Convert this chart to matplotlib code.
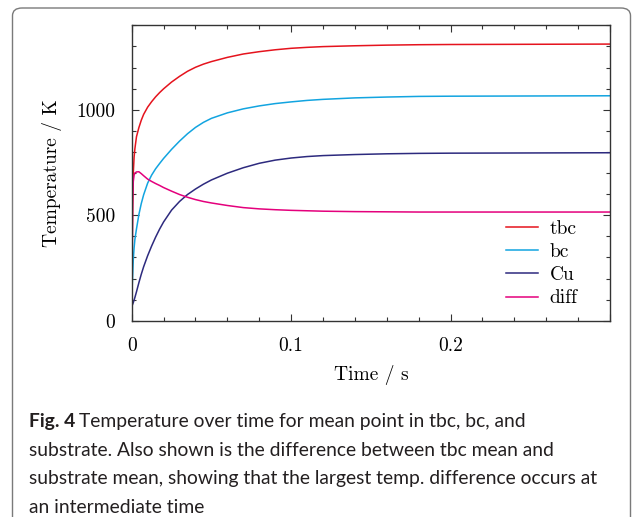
import matplotlib
matplotlib.use('Agg')
import matplotlib.pyplot as plt
from matplotlib.patches import FancyBboxPatch
from matplotlib.ticker import MultipleLocator

# values (time in s, temperature in K)
time = [0, 0.0003, 0.0006, 0.001, 0.0015, 0.002, 0.003, 0.0045, 0.006, 0.0075,
        0.01, 0.0125, 0.015, 0.0175, 0.02, 0.025, 0.03, 0.035, 0.04, 0.045,
        0.05, 0.06, 0.07, 0.08, 0.09, 0.1, 0.11, 0.12, 0.14, 0.16, 0.18,
        0.2, 0.25, 0.3]
tbc = [60, 330, 540, 700, 775, 815, 872, 915, 950, 978,
       1012, 1038, 1061, 1081, 1099, 1131, 1158, 1182, 1201, 1216,
       1228, 1248, 1264, 1275, 1284, 1291, 1295.5, 1299, 1303, 1306, 1308,
       1309, 1310, 1311]
bc = [70, 160, 215, 290, 345, 385, 435, 503, 555, 597,
      652, 690, 720, 745, 769, 812, 851, 886, 916, 940,
      959, 985, 1004, 1018, 1029, 1037, 1044, 1049, 1056, 1060, 1063,
      1064, 1065, 1066]
cu = [66, 72, 78, 86, 98, 110, 137, 180, 220, 256,
      308, 354, 396, 434, 468, 524, 565, 598, 624, 647,
      667, 699, 725, 746, 761, 771, 778, 782.5, 787.5, 791, 793,
      794, 795, 796]
diff = [0, 300, 560, 660, 690, 700, 705, 706, 697, 687,
        671, 660, 650, 641, 631, 614, 598, 585, 574, 565,
        558, 546, 536, 530, 526, 523, 521, 519, 517, 516, 515,
        515, 515, 515]

xticks = [0, 0.1, 0.2, 0.3]
xtick_labels = ['0', '0.1', '0.2', '']
yticks = [0, 500, 1000]

series = [('tbc', tbc, '#e5131d'), ('bc', bc, '#12a4e0'),
          ('Cu', cu, '#2d2a7e'), ('diff', diff, '#e4007c')]

plt.rcParams['font.family'] = 'cmr10'
plt.rcParams['mathtext.fontset'] = 'cm'
plt.rcParams['axes.unicode_minus'] = False
plt.rcParams['axes.formatter.use_mathtext'] = True

fig = plt.figure(figsize=(6.37, 5.17), dpi=100)

# rounded caption frame
frame = FancyBboxPatch((12.5 / 637, -0.05), 618 / 637, (517 - 8) / 517 + 0.05,
                       boxstyle='round,pad=0,rounding_size=0.015',
                       transform=fig.transFigure, fc='none', ec='#7a7a7a', lw=1.0)
fig.patches.append(frame)

ax = fig.add_axes([131.7 / 637, (517 - 320.7) / 517, 478.3 / 637, 295.4 / 517])
for name, vals, col in series:
    ax.plot(time, vals, color=col, lw=1.1, label=name)

ax.set_xlim(0, 0.3)
ax.set_ylim(0, 1400)
ax.set_xticks(xticks)
ax.set_xticklabels(xtick_labels)
ax.set_yticks(yticks)
ax.set_yticklabels([str(v) for v in yticks])
ax.xaxis.set_minor_locator(MultipleLocator(0.02))
ax.yaxis.set_minor_locator(MultipleLocator(100))
ax.tick_params(which='both', direction='in', top=True, right=True,
               labelsize=14, pad=12, color='#333333', width=0.8)
ax.tick_params(which='major', length=5)
ax.tick_params(which='minor', length=3)
for s in ax.spines.values():
    s.set_color('#333333')
    s.set_linewidth(1.0)

ax.set_xlabel('Time / s', fontsize=14, labelpad=7)
ax.set_ylabel('Temperature / K', fontsize=14, labelpad=10)

ax.legend(loc='center left', bbox_to_anchor=(0.7826, 0.193), frameon=False,
          fontsize=14, borderpad=0, borderaxespad=0, handlelength=1.65,
          handletextpad=0.6, labelspacing=0.27)

# caption
lines = ['Temperature over time for mean point in tbc, bc, and',
         'substrate. Also shown is the difference between tbc mean and',
         'substrate mean, showing that the largest temp. difference occurs at',
         'an intermediate time']
cap_font = ['Lato', 'DejaVu Sans']
cap_size = 13.9
x0 = 29 / 637
y_first = 1 - 427 / 517
dy = 28.7 / 517
bold = fig.text(x0, y_first, 'Fig. 4', fontsize=cap_size, fontweight='bold',
                family=cap_font, va='baseline', color='#231f20')
fig.canvas.draw()
bb = bold.get_window_extent(renderer=fig.canvas.get_renderer())
fig.text(bb.x1 / fig.bbox.width + 4 / 637, y_first, lines[0], fontsize=cap_size,
         family=cap_font, va='baseline', color='#231f20')
for i, ln in enumerate(lines[1:], start=1):
    fig.text(x0, y_first - i * dy, ln, fontsize=cap_size, family=cap_font,
             va='baseline', color='#231f20')

fig.savefig('out.png', dpi=100)
